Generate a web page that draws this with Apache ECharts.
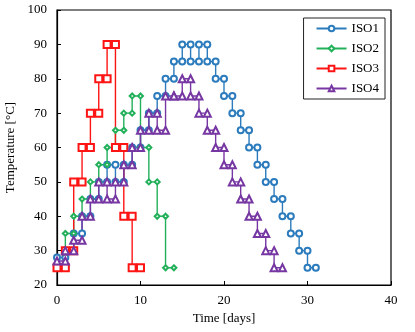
<!DOCTYPE html>
<html>
<head>
<meta charset="utf-8">
<script src="https://cdn.jsdelivr.net/npm/echarts@6/dist/echarts.min.js"></script>
<style>
  html, body { margin: 0; padding: 0; background: #fff; }
  #chart { width: 415px; height: 332px; }
</style>
</head>
<body>
<div id="chart"></div>
<script>
// daily set temperature, one value per day (held from day i to day i+1)
var iso1 = [28, 30, 35, 40, 45, 50, 55, 50, 55, 60, 65, 70, 75, 80, 85, 90, 85, 90, 85, 80, 75, 70, 65, 60, 55, 50, 45, 40, 35, 30, 25];
var iso2 = [25, 35, 40, 45, 50, 55, 60, 65, 70, 75, 60, 50, 40, 25];
var iso3 = [25, 30, 50, 60, 70, 80, 90, 60, 40, 25];
var iso4 = [27, 30, 33, 40, 45, 50, 45, 50, 55, 60, 65, 70, 65, 75, 75, 80, 75, 70, 65, 60, 55, 50, 45, 40, 35, 30, 25];
var seriesNames = ['ISO1', 'ISO2', 'ISO3', 'ISO4'];
var xTicks = [0, 10, 20, 30, 40];
var yTicks = [20, 30, 40, 50, 60, 70, 80, 90, 100];

// each day value -> two points (start and end of the day)
function steps(vals) {
	var pts = [];
	for (var i = 0; i < vals.length; i++) {
		pts.push([i, vals[i]]);
		pts.push([i + 1, vals[i]]);
	}
	return pts;
}

var font = 'Liberation Serif, Times New Roman, serif';
var colors = ['#2b7bbd', '#22b05a', '#ff1414', '#7637a3'];
var symbols = ['emptyCircle', 'emptyDiamond', 'emptyRect', 'emptyTriangle'];
var sizes = [6, 5, 7, 7];
var allData = [iso1, iso2, iso3, iso4];

var myChart = echarts.init(document.getElementById('chart'));
var option = {
	animation: false,
	textStyle: { fontFamily: font },
	grid: {
		left: 57, right: 24, top: 10, bottom: 47,
		outerBoundsMode: 'none',
		containLabel: false,
		show: true, borderColor: '#000', borderWidth: 1.2
	},
	legend: {
		orient: 'vertical',
		right: 30, top: 18,
		itemWidth: 30, itemHeight: 7, itemGap: 7,
		padding: [4, 6, 4, 12],
		borderColor: '#222', borderWidth: 1,
		textStyle: { fontFamily: font, fontSize: 13, color: '#000' },
		data: seriesNames
	},
	xAxis: {
		type: 'value', min: xTicks[0], max: xTicks[xTicks.length - 1], interval: 10,
		name: 'Time [days]', nameLocation: 'middle', nameGap: 22,
		nameTextStyle: { fontFamily: font, fontSize: 13, color: '#000' },
		axisLine: { lineStyle: { color: '#000', width: 1.2 } },
		axisTick: { inside: true, length: 4, lineStyle: { color: '#000' } },
		axisLabel: { fontFamily: font, fontSize: 13, color: '#000', margin: 9 },
		splitLine: { show: false }
	},
	yAxis: {
		type: 'value', min: yTicks[0], max: yTicks[yTicks.length - 1], interval: 10,
		name: 'Temperature [°C]', nameLocation: 'middle', nameGap: 35, nameRotate: 90,
		nameTextStyle: { fontFamily: font, fontSize: 13, color: '#000' },
		axisLine: { lineStyle: { color: '#000', width: 1.2 } },
		axisTick: { inside: true, length: 4, lineStyle: { color: '#000' } },
		axisLabel: { fontFamily: font, fontSize: 13, color: '#000', margin: 10 },
		splitLine: { show: false }
	},
	series: seriesNames.map(function (name, k) {
		return {
			name: name,
			type: 'line',
			data: steps(allData[k]),
			symbol: symbols[k],
			symbolSize: sizes[k],
			showAllSymbol: true,
			lineStyle: { color: colors[k], width: 1.4 },
			itemStyle: { color: colors[k], borderWidth: 1.3 }
		};
	})
};
myChart.setOption(option);
</script>
</body>
</html>
